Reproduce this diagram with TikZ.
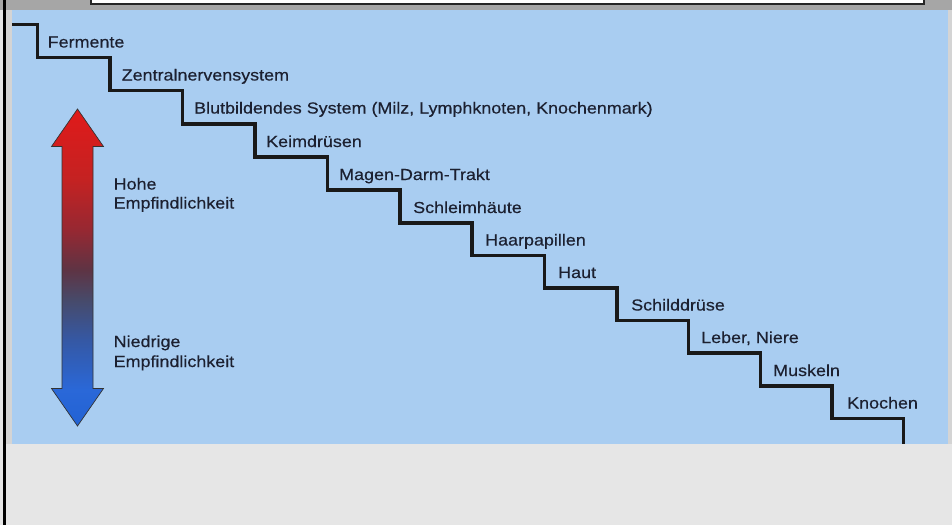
\documentclass[tikz,border=0pt]{standalone}
\usepackage{fontspec}
\setmainfont{Liberation Sans}[FakeStretch=1.12,FakeBold=0.35]
\definecolor{panel}{HTML}{A9CDF1}
\definecolor{pagegray}{HTML}{E6E6E6}
\definecolor{bargray}{HTML}{A6A6A6}
\definecolor{sidegray}{HTML}{D4D4D4}
\definecolor{txt}{HTML}{1C2030}
\definecolor{sA}{HTML}{2262D4}
\definecolor{sB}{HTML}{2A68D8}
\definecolor{sC}{HTML}{3558A4}
\definecolor{sD}{HTML}{474A6A}
\definecolor{sE}{HTML}{5E3444}
\definecolor{sF}{HTML}{962832}
\definecolor{sG}{HTML}{C42222}
\definecolor{sH}{HTML}{E01A1A}
\pgfdeclareverticalshading{redblue}{100bp}{color(0bp)=(sA); color(25bp)=(sA); color(30.7bp)=(sB); color(38.6bp)=(sC); color(44.9bp)=(sD); color(49.6bp)=(sE); color(55.9bp)=(sF); color(63.8bp)=(sG); color(75bp)=(sH); color(100bp)=(sH)}
\tikzset{
  lbl/.style={anchor=base west, text=txt, inner sep=0pt, font=\fontsize{16}{19}\selectfont},
  stair/.style={line width=3.5pt, draw=black!90, line join=miter},
}
\begin{document}
\begin{tikzpicture}[x=1pt,y=-1pt]
\useasboundingbox (0,0) rectangle (952,525);
% backgrounds
\fill[pagegray] (0,0) rectangle (952,525);
\fill[bargray] (0,0) rectangle (952,10);
\fill[sidegray] (6,10) rectangle (12,444);
\fill[sidegray] (948,10) rectangle (952,444);
\fill[panel] (12,10) rectangle (948,444);
\draw[fill=white, draw=black!85, line width=1.3pt] (91,-6) rectangle (924,4);
\draw[black, line width=3pt] (4.5,0) -- (4.5,525);
% staircase
\draw[stair] (12,24.5) -| (37.5,57.5) -| (110,90.5) -| (182.5,124) -| (255,157)
  -| (327.5,190) -| (400,223) -| (472,255.5) -| (544.5,288) -| (617,320.5)
  -| (688.5,353) -| (760.5,386) -| (832,418.5) -| (903.5,444);
% labels
\node[lbl] (l0) at (47.5,47.5) {Fermente};
\node[lbl] (l1) at (121.5,80.5) {Zentralnervensystem};
\node[lbl] (l2) at (194,113.5) {Blutbildendes System (Milz, Lymphknoten, Knochenmark)};
\node[lbl] (l3) at (266,147) {Keimdrüsen};
\node[lbl] (l4) at (339,180) {Magen-Darm-Trakt};
\node[lbl] (l5) at (413,213) {Schleimhäute};
\node[lbl] (l6) at (485,245.5) {Haarpapillen};
\node[lbl] (l7) at (558,278) {Haut};
\node[lbl] (l8) at (631,310.5) {Schilddrüse};
\node[lbl] (l9) at (701,343) {Leber, Niere};
\node[lbl] (l10) at (773,376) {Muskeln};
\node[lbl] (l11) at (847,408.5) {Knochen};
% double arrow
\shadedraw[shading=redblue, draw=black!80, line width=0.7pt, line join=miter]
  (77.5,109) -- (103.5,146.5) -- (93,146.5) -- (93,388.5) -- (103.5,388.5)
  -- (77.5,426) -- (51.5,388.5) -- (62,388.5) -- (62,146.5) -- (51.5,146.5) -- cycle;
\node[lbl] (hohe) at (113.5,189.5) {Hohe};
\node[lbl] (hohe2) at (113.5,208.5) {Empfindlichkeit};
\node[lbl] (nied) at (113.5,347) {Niedrige};
\node[lbl] (nied2) at (113.5,367) {Empfindlichkeit};
\end{tikzpicture}
\end{document}
